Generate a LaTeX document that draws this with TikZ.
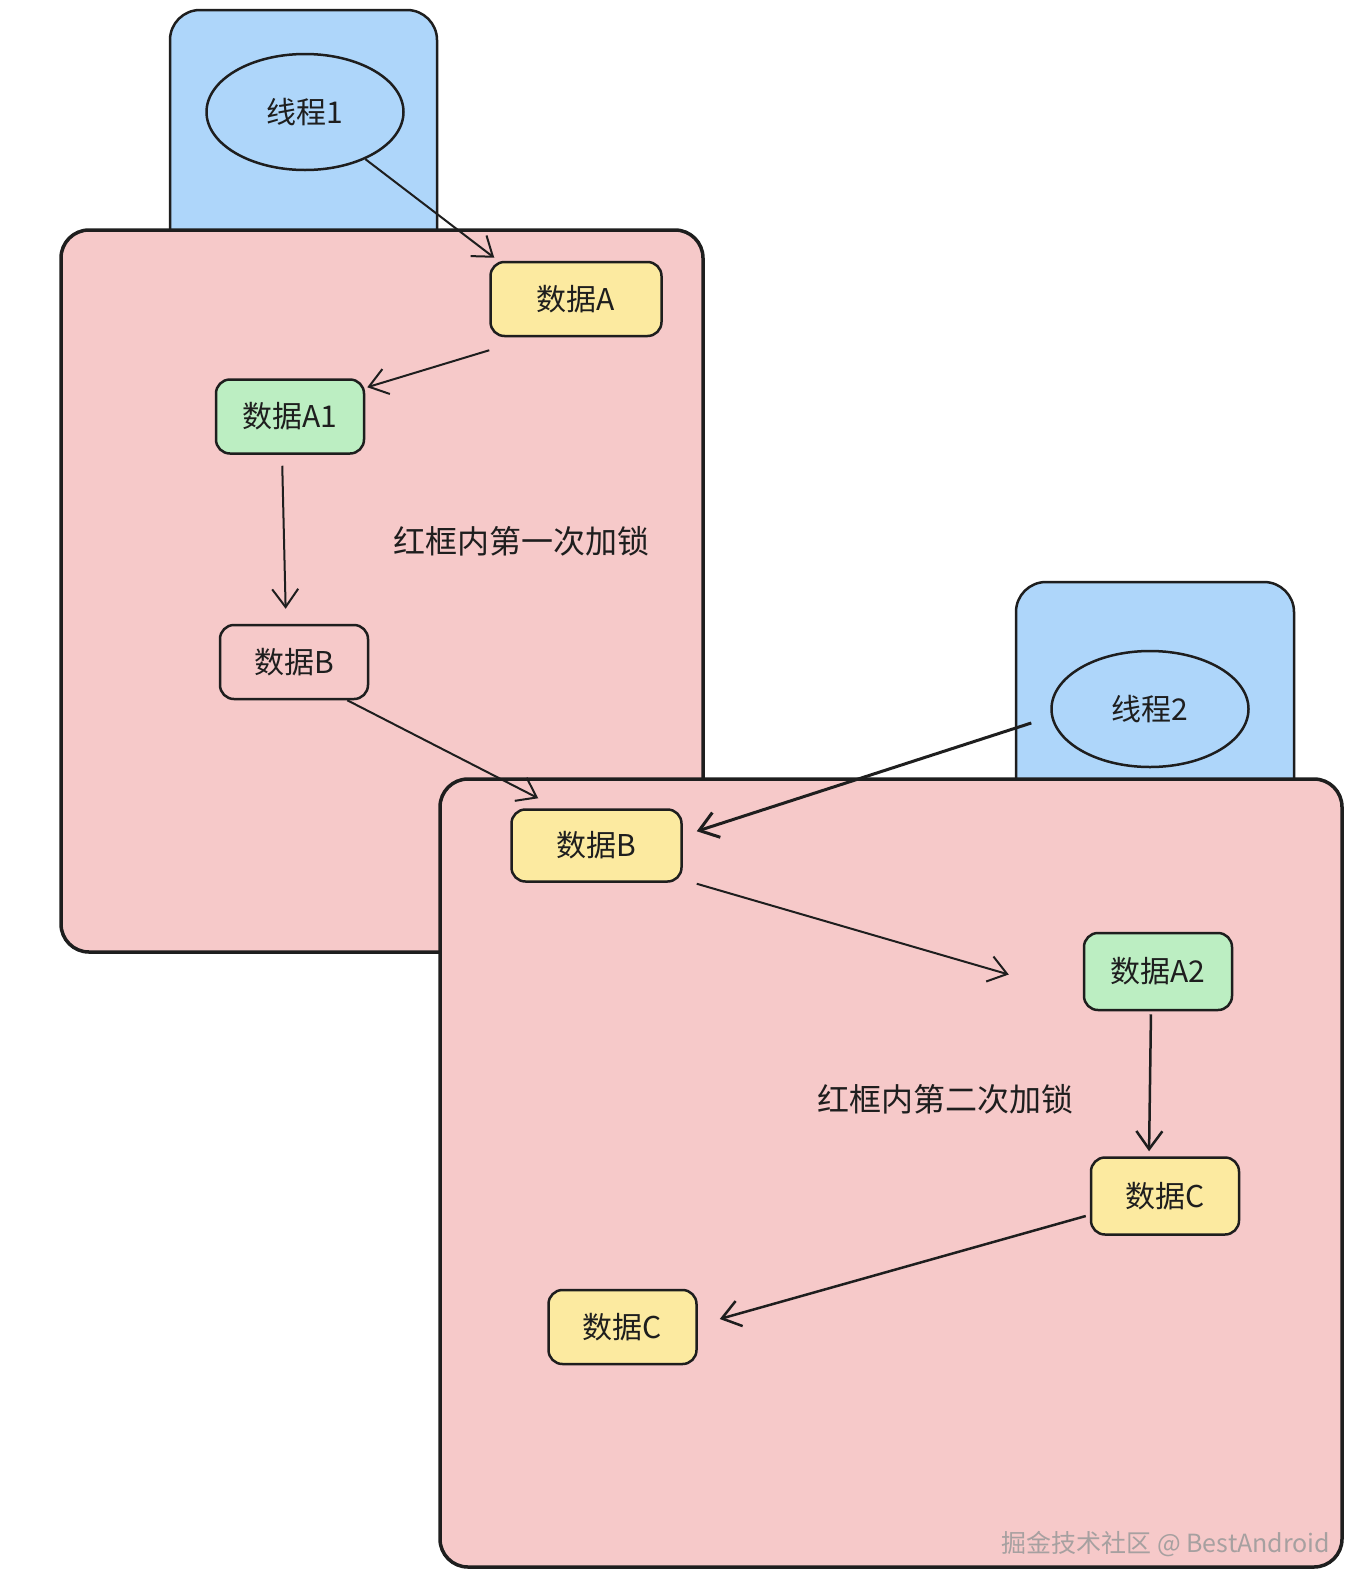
\documentclass[tikz,border=0pt]{standalone}
\usepackage{fontspec}
\setmainfont{Noto Sans CJK SC}
\usetikzlibrary{arrows.meta,positioning,shapes.geometric}

\definecolor{ink}{HTML}{1E1E1E}
\definecolor{lockred}{RGB}{246,201,201}
\definecolor{threadblue}{RGB}{174,214,250}
\definecolor{datayellow}{RGB}{252,234,160}
\definecolor{datagreen}{RGB}{188,238,194}
\newcommand{\diagfont}{\fontsize{30}{34}\selectfont}
\newcommand{\notefont}{\fontsize{32}{36}\selectfont}
\newcommand{\markfont}{\fontsize{25}{27}\selectfont}

\begin{document}
\begin{tikzpicture}[
    x=1pt, y=-1pt,
    threadbox/.style={draw=ink, fill=threadblue, line width=2.5pt, rounded corners=30pt},
    lockbox/.style={draw=ink, fill=lockred, line width=3.5pt, rounded corners=28pt},
    thread/.style={ellipse, draw=ink, fill=threadblue, line width=2.5pt, minimum width=197pt, minimum height=116pt, font=\diagfont, text=ink},
    datanode/.style={rectangle, draw=ink, line width=2.5pt, rounded corners=14pt, minimum width=148pt, minimum height=74pt, inner sep=0pt, font=\diagfont, text=ink},
    arrow/.style={-{Straight Barb[length=18pt,width=26pt]}, line width=2pt, draw=ink},
    note/.style={font=\notefont, text=ink},
    node distance=44pt
]
    \fill[white] (0,0) rectangle (1372,1596);
    \useasboundingbox (0,0) rectangle (1372,1596);

    % thread tabs and lock areas
    \draw[threadbox] (170,10) rectangle (437,400);
    \draw[lockbox] (61,230) rectangle (703,952);
    \draw[threadbox] (1016,582) rectangle (1294,900);
    \draw[lockbox] (440,779) rectangle (1342,1567);

    \node[thread] (t1) at (305,112) {线程1};
    \node[thread] (t2) at (1150,709) {线程2};

    % first lock
    \node[datanode, fill=datayellow, minimum width=171pt] (dA) at (576,299) {数据A};
    \node[datanode, fill=datagreen, below left=41pt and 124pt of dA] (dA1) {数据A1};
    \node[datanode, below=169pt of dA1, xshift=4pt] (dB1) {数据B};
    \node[note] (lock1) at (521,541) {红框内第一次加锁};

    % second lock
    \node[datanode, fill=datayellow, minimum width=170pt, minimum height=72pt, below right=108pt and 141pt of dB1] (dB2) {数据B};
    \node[datanode, fill=datagreen, minimum height=77pt, below right=49pt and 400pt of dB2] (dA2) {数据A2};
    \node[datanode, fill=datayellow, minimum height=77pt, below=145pt of dA2, xshift=7pt] (dC1) {数据C};
    \node[datanode, fill=datayellow, below left=53pt and 392pt of dC1] (dC2) {数据C};
    \node[note] (lock2) at (945,1099) {红框内第二次加锁};
    \coordinate (dA2in) at ([xshift=-74pt,yshift=-3pt]dA2.west);

    \node[font=\markfont, text=gray!80, opacity=0.85] (mark) at (1166,1544) {掘金技术社区 @ BestAndroid};

    \draw[arrow] (t1.-38) -- ([xshift=5pt,yshift=3pt]dA.north west);
    \draw[arrow] ([yshift=-13pt]dA.south west) -- ([xshift=2pt,yshift=-9pt]dA1.north east);
    \draw[arrow, shorten <=11pt, shorten >=15pt] ([xshift=-8pt]dA1.south) -- ([xshift=-8pt]dB1.north);
    \draw[arrow] ([xshift=-22pt]dB1.south east) -- ([xshift=28pt,yshift=10pt]dB2.north west);
    \draw[arrow, line width=3pt] ([xshift=-19pt,yshift=-14pt]t2.west) -- ([xshift=14pt,yshift=-23pt]dB2.north east);
    \draw[arrow] ([xshift=14pt,yshift=-1pt]dB2.south east) -- (dA2in);
    \draw[arrow, line width=2.5pt, shorten <=3pt, shorten >=5pt] ([xshift=-7pt]dA2.south) -- ([xshift=-16pt]dC1.north);
    \draw[arrow, line width=2.5pt] ([xshift=-4pt,yshift=-20pt]dC1.west) -- ([xshift=22pt,yshift=8pt]dC2.east);
\end{tikzpicture}
\end{document}
